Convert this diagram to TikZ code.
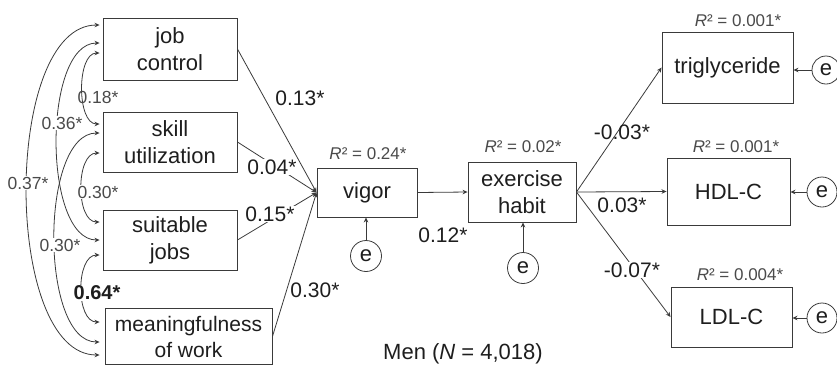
\documentclass[tikz,border=0pt]{standalone}
\usepackage{fontspec}
\setmainfont{Liberation Sans}
\usetikzlibrary{arrows.meta,calc}
\definecolor{ln}{HTML}{3A3A3A}
\definecolor{txt}{HTML}{1E1E1E}
\definecolor{sec}{HTML}{4A4A4A}
\begin{document}
\begin{tikzpicture}[x=1pt,y=-1pt,
  box/.style={draw=ln, line width=0.9pt, align=center, inner sep=0pt, text=txt,
    font=\fontsize{22}{27}\selectfont},
  err/.style={draw=ln, line width=0.8pt, circle, inner sep=0pt, minimum size=31pt, text=txt,
    font=\fontsize{22}{26}\selectfont},
  arr/.style={draw=ln, line width=0.8pt, -{Stealth[length=5pt,width=4.5pt]}},
  cov/.style={draw=ln, line width=0.8pt, {Stealth[length=5pt,width=4.5pt]}-{Stealth[length=5pt,width=4.5pt]}},
  lab/.style={text=txt, inner sep=0.5pt, font=\fontsize{21}{24}\selectfont},
  wlab/.style={lab, fill=white},
  rlab/.style={text=sec, inner sep=0.5pt, font=\fontsize{17}{20}\selectfont},
  clab/.style={text=sec, inner sep=0.5pt, font=\fontsize{17.5}{20}\selectfont},
]
\useasboundingbox (0,0) rectangle (837,368);

% boxes
\node[box, minimum width=134pt, minimum height=62pt] (jc) at (170,49) {job\\control};
\node[box, minimum width=134pt, minimum height=60pt] (su) at (170,142) {skill\\utilization};
\node[box, minimum width=134pt, minimum height=60pt] (sj) at (170,240) {suitable\\jobs};
\node[box, minimum width=167pt, minimum height=56pt, font=\fontsize{21}{26}\selectfont] (mw) at (188.5,336.5) {meaningfulness\\of work};
\node[box, minimum width=100pt, minimum height=49pt] (vigor) at (367,192.5) {vigor};
\node[box, minimum width=108pt, minimum height=60pt] (ex) at (522,192) {exercise\\habit};
\node[box, minimum width=131pt, minimum height=71pt] (trig) at (727.5,67.5) {triglyceride};
\node[box, minimum width=123pt, minimum height=67pt] (hdl) at (728.5,191.5) {HDL-C};
\node[box, minimum width=121pt, minimum height=60pt] (ldl) at (731.5,317) {LDL-C};

% error terms
\node[err] (ev) at (366,256) {e};
\node[err] (ee) at (523,268) {e};
\node[err, minimum size=28pt] (et) at (826,70) {e};
\node[err, minimum size=30pt] (eh) at (822,192) {e};
\node[err, minimum size=30pt] (el) at (822,318) {e};

% paths
\draw[arr] (jc.east) -- (vigor.west);
\draw[arr] (su.east) -- (vigor.west);
\draw[arr] (sj.east) -- (vigor.west);
\draw[arr] (mw.east) -- (vigor.west);
\draw[arr] (vigor.east) -- (ex.west);
\draw[arr] (ex.east) -- (trig.west);
\draw[arr] (ex.east) -- (hdl.west);
\draw[arr] (ex.east) -- (ldl.west);
\draw[arr] (ev.north) -- (ev.north |- vigor.south);
\draw[arr] (ee.north) -- (ee.north |- ex.south);
\draw[arr] (et.west) -- (et.west -| trig.east);
\draw[arr] (eh.west) -- (eh.west -| hdl.east);
\draw[arr] (el.west) -- (el.west -| ldl.east);

% covariances
\draw[cov] ([shift={(-3pt,-4pt)}]jc.west) .. controls +(-23pt,0pt) and +(-23pt,0pt) .. ([shift={(-3pt,18pt)}]su.west);
\draw[cov] ([shift={(-3pt,6pt)}]jc.west) .. controls +(-57pt,0pt) and +(-57pt,0pt) .. ([shift={(-3pt,0pt)}]sj.west);
\draw[cov] ([shift={(-3pt,24pt)}]jc.west) .. controls +(-97pt,0pt) and +(-97pt,0pt) .. ([shift={(-5pt,-18.5pt)}]mw.west);
\draw[cov] ([shift={(-3pt,-11pt)}]su.west) .. controls +(-24pt,0pt) and +(-24pt,0pt) .. ([shift={(-3pt,18pt)}]sj.west);
\draw[cov] ([shift={(-3pt,9pt)}]su.west) .. controls +(-60pt,0pt) and +(-60pt,0pt) .. ([shift={(-5pt,-5.5pt)}]mw.west);
\draw[cov] ([shift={(-3pt,-15pt)}]sj.west) .. controls +(-24pt,0pt) and +(-24pt,0pt) .. ([shift={(-5pt,14.5pt)}]mw.west);

% path labels
\node[lab] (l13) at (300,98) {0.13*};
\node[wlab] (l04) at (272,167) {0.04*};
\node[wlab] (l15) at (270,214) {0.15*};
\node[lab] (l30v) at (315,290) {0.30*};
\node[lab] (l12) at (443,235) {0.12*};
\node[lab] (lt) at (622,132) {-0.03*};
\node[lab] (lh) at (622,205) {0.03*};
\node[wlab] (ll) at (632,270) {-0.07*};

% R2 labels
\node[rlab] (rv) at (368,154) {{\itshape R}² = 0.24*};
\node[rlab] (re) at (523,147) {{\itshape R}² = 0.02*};
\node[rlab] (rt) at (738,21) {{\itshape R}² = 0.001*};
\node[rlab] (rh) at (736,147) {{\itshape R}² = 0.001*};
\node[rlab] (rl) at (740,275) {{\itshape R}² = 0.004*};

% covariance labels
\node[clab] (c18) at (98,97) {0.18*};
\node[clab, fill=white] (c36) at (62,123) {0.36*};
\node[clab, fill=white] (c37) at (28,183) {0.37*};
\node[clab, fill=white] (c30a) at (98,192) {0.30*};
\node[clab, fill=white] (c30b) at (60,245) {0.30*};
\node[clab, fill=white, text=txt, font=\fontsize{20}{22}\selectfont\bfseries] (c64) at (97,293) {0.64*};

% caption
\node[lab, font=\fontsize{22}{26}\selectfont] (men) at (463,354) {Men ({\itshape N} = 4,018)};
\end{tikzpicture}
\end{document}
